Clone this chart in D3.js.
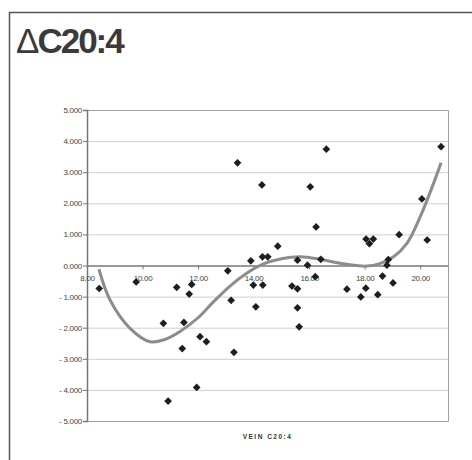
<!DOCTYPE html>
<html>
<head>
<meta charset="utf-8">
<script src="https://cdn.jsdelivr.net/npm/d3@7"></script>
<style>
  body { margin: 0; background: #fff; }
  text { font-family: "Liberation Sans", Arial, sans-serif; }
</style>
</head>
<body>
<div id="chart"></div>
<script>
// data
const xVals = [8.44, 9.77, 11.23, 11.77, 11.68, 13.07, 13.19, 13.42, 14.30, 16.04,
  16.25, 14.87, 14.32, 14.51, 13.90, 15.58, 15.94, 16.22, 13.99, 14.33,
  15.38, 15.58, 14.08, 15.58, 16.42, 17.36, 17.86, 18.04, 18.47, 18.64,
  19.02, 18.05, 18.31, 18.17, 18.85, 18.80, 19.24, 20.06, 20.25, 20.75,
  16.62, 10.75, 11.49, 11.43, 12.07, 12.30, 11.95, 10.92, 13.29, 15.64];
const yVals = [-0.74, -0.53, -0.70, -0.61, -0.92, -0.17, -1.12, 3.30, 2.59, 2.53,
  1.24, 0.62, 0.28, 0.28, 0.15, 0.17, 0.01, -0.36, -0.63, -0.63,
  -0.66, -0.75, -1.33, -1.36, 0.20, -0.76, -1.01, -0.73, -0.94, -0.34,
  -0.56, 0.85, 0.85, 0.70, 0.19, 0.01, 0.99, 2.14, 0.82, 3.82,
  3.74, -1.86, -1.83, -2.67, -2.29, -2.45, -3.92, -4.36, -2.79, -1.97];

// trend line
const trendX = [8.43, 8.83, 9.55, 10.27, 10.80, 11.35, 12.00, 12.55, 13.15, 13.75,
  14.35, 15.00, 15.68, 16.40, 17.12, 18.08, 18.56, 19.04, 19.52, 20.0, 20.48, 20.75];
const trendY = [-0.12, -1.11, -2.02, -2.45, -2.38, -2.12, -1.68, -1.17, -0.66, -0.25,
  0.05, 0.22, 0.28, 0.20, 0.07, -0.02, 0.07, 0.28, 0.71, 1.57, 2.64, 3.30];

const xTicks = [8, 10, 12, 14, 16, 18, 20];
const yTicks = [5, 4, 3, 2, 1, 0, -1, -2, -3, -4, -5];

const titleText = "C20:4";
const xTitle = "VEIN C20:4";

const width = 472, height = 460;
const plot = { left: 87, right: 448, top: 110, bottom: 421 };

const svg = d3.select('#chart').append('svg')
  .attr('width', width)
  .attr('height', height);

// outer frame (only left and top edges are in view)
svg.append('path')
  .attr('d', `M9.5,${height} L9.5,12.5 L${width},12.5`)
  .attr('fill', 'none')
  .attr('stroke', '#555')
  .attr('stroke-width', 1.5);

// title
const title = svg.append('text')
  .attr('x', 16)
  .attr('y', 53)
  .attr('fill', '#3a3a3a')
  .style('font-size', '35px')
  .style('letter-spacing', '-2px');
title.append('tspan').style('font-weight', 'normal').text('\u0394');
title.append('tspan').style('font-weight', 'bold').text(titleText);

const x = d3.scaleLinear().domain([8, 21]).range([plot.left, plot.right]);
const y = d3.scaleLinear().domain([-5, 5]).range([plot.bottom, plot.top]);

// gridlines
svg.append('g')
  .selectAll('line')
  .data(yTicks.filter(d => d !== 0 && d !== -5))
  .enter().append('line')
  .attr('x1', plot.left).attr('x2', plot.right)
  .attr('y1', d => y(d) + 0.5).attr('y2', d => y(d) + 0.5)
  .attr('stroke', '#cfcfcf')
  .attr('stroke-width', 1);

// plot border (top/right/bottom)
svg.append('path')
  .attr('d', `M${plot.left},${plot.top + 0.5} H${plot.right + 0.5} V${plot.bottom + 0.5} H${plot.left}`)
  .attr('fill', 'none')
  .attr('stroke', '#a0a0a0')
  .attr('stroke-width', 1);

// y axis
const yAxis = d3.axisLeft(y)
  .tickValues(yTicks)
  .tickSize(4)
  .tickFormat(d => d < 0 ? '- ' + d3.format('.3f')(-d) : d3.format('.3f')(d));
const gy = svg.append('g')
  .attr('transform', `translate(${plot.left},0)`)
  .call(yAxis);
gy.select('.domain').attr('stroke', '#777').attr('stroke-width', 1.5);
gy.selectAll('.tick line').attr('stroke', '#777');
gy.selectAll('.tick text')
  .attr('x', -5)
  .attr('fill', '#444')
  .style('font-size', '8px')
  .style('letter-spacing', '-0.3px');

// x axis at y = 0
const xAxis = d3.axisBottom(x)
  .tickValues(xTicks)
  .tickSize(4)
  .tickSizeOuter(0)
  .tickFormat(d3.format('.2f'));
const gx = svg.append('g')
  .attr('transform', `translate(0,${y(0)})`)
  .call(xAxis);
gx.select('.domain').attr('stroke', '#777').attr('stroke-width', 1.5);
gx.selectAll('.tick line').attr('stroke', '#777');
gx.selectAll('.tick text')
  .attr('y', 10)
  .attr('fill', '#444')
  .style('font-size', '8px')
  .style('letter-spacing', '-0.3px');

// trend line
const trend = trendX.map((d, i) => [d, trendY[i]]);
svg.append('path')
  .datum(trend)
  .attr('d', d3.line()
    .x(d => x(d[0]))
    .y(d => y(d[1]))
    .curve(d3.curveCatmullRom))
  .attr('fill', 'none')
  .attr('stroke', '#8c8c8c')
  .attr('stroke-width', 3);

// points
const pts = xVals.map((d, i) => [d, yVals[i]]);
svg.append('g')
  .selectAll('path')
  .data(pts)
  .enter().append('path')
  .attr('d', d3.symbol().type(d3.symbolDiamond2).size(38))
  .attr('transform', d => `translate(${x(d[0])},${y(d[1])})`)
  .attr('fill', '#1e1e1e');

// x axis title
svg.append('text')
  .attr('x', (plot.left + plot.right) / 2)
  .attr('y', 439)
  .attr('text-anchor', 'middle')
  .attr('fill', '#333')
  .style('font-size', '6.5px')
  .style('font-weight', 'bold')
  .style('letter-spacing', '1.5px')
  .text(xTitle);
</script>
</body>
</html>
